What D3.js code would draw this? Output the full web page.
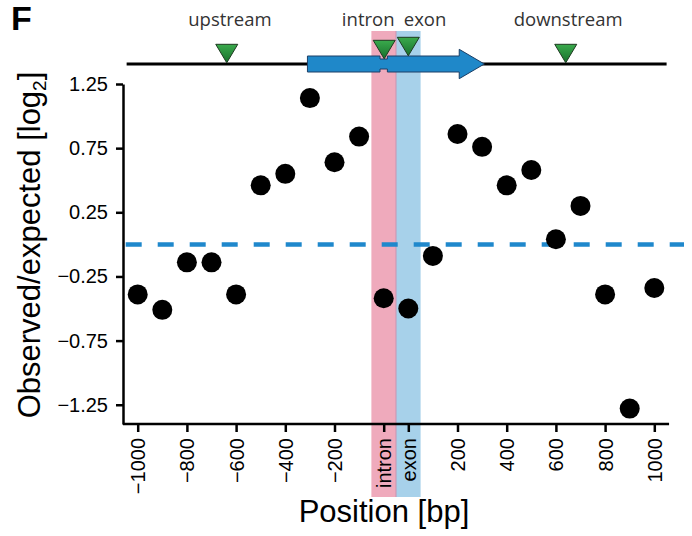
<!DOCTYPE html>
<html>
<head>
<meta charset="utf-8">
<script src="https://cdn.jsdelivr.net/npm/d3@7"></script>
<style>
  body { margin: 0; background: #fff; }
  svg { display: block; }
</style>
</head>
<body>
<svg id="chart" width="692" height="536"></svg>
<script>
// positions along the gene, upstream bins, the two splice-site bins, downstream bins
const positions = ["-1000", "-900", "-800", "-700", "-600", "-500", "-400", "-300", "-200", "-100",
  "intron", "exon",
  "100", "200", "300", "400", "500", "600", "700", "800", "900", "1000"];

// observed/expected ratio (log2) for each position
const ratios = [-0.39, -0.51, -0.14, -0.14, -0.39, 0.46, 0.55, 1.14, 0.64, 0.84,
  -0.42, -0.50,
  -0.09, 0.86, 0.76, 0.46, 0.58, 0.04, 0.30, -0.39, -1.28, -0.34];

const xTicks = ["-1000", "-800", "-600", "-400", "-200", "intron", "exon", "200", "400", "600", "800", "1000"];
const yTicks = [1.25, 0.75, 0.25, -0.25, -0.75, -1.25];

// shaded bins behind the points
const bands = [
  { pos: "intron", color: "#efaabc" },
  { pos: "exon", color: "#a7d1ea" },
];

// gene cartoon on top, in bin units (0 = first bin)
const geneLine = [-0.45, 21.5];
const geneArrow = { start: 6.9, notchStart: 9.85, notchEnd: 10.15, headStart: 13.07, tip: 14.09 };
const markers = [
  { name: "upstream", pos: 3.62, drop: 0 },
  { name: "intron", pos: 10.02, drop: -4 },
  { name: "exon", pos: 11.0, drop: -7 },
  { name: "downstream", pos: 17.4, drop: 0 },
];
const markerLabels = [
  { name: "upstream", pos: 3.75 },
  { name: "intron", pos: 9.37 },
  { name: "exon", pos: 11.68 },
  { name: "downstream", pos: 17.5 },
];

const svg = d3.select("#chart");
const minus = s => String(s).replace("-", "\u2212");

const x = d3.scalePoint()
  .domain(positions)
  .range([137.7, 654.3]);

// same range but numeric, for the gene cartoon
const bin = d3.scaleLinear()
  .domain([0, positions.length - 1])
  .range(x.range());

const y = d3.scaleLinear()
  .domain([-1.4, 1.25])
  .range([424, 84]);

const step = x.step();

// background bands for intron / exon
svg.append("g")
  .selectAll("rect")
  .data(bands)
  .join("rect")
  .attr("x", d => x(d.pos) - step / 2)
  .attr("y", 31)
  .attr("width", step)
  .attr("height", 466)
  .attr("fill", d => d.color);

svg.append("line") //thin seam between the two bands
  .attr("x1", x("intron") + step / 2)
  .attr("x2", x("intron") + step / 2)
  .attr("y1", 31)
  .attr("y2", 497)
  .attr("stroke", "#c595b2")
  .attr("stroke-width", 1);

// gene cartoon
svg.append("line")
  .attr("x1", bin(geneLine[0]))
  .attr("x2", bin(geneLine[1]))
  .attr("y1", 64)
  .attr("y2", 64)
  .attr("stroke", "#000")
  .attr("stroke-width", 3);

const a = {
  x0: bin(geneArrow.start),
  n0: bin(geneArrow.notchStart),
  n1: bin(geneArrow.notchEnd),
  h: bin(geneArrow.headStart),
  t: bin(geneArrow.tip),
};
const arrowPath = d3.path();
arrowPath.moveTo(a.x0, 56);
arrowPath.lineTo(a.n0, 56);
arrowPath.lineTo(a.n0, 59);
arrowPath.lineTo(a.n1, 59);
arrowPath.lineTo(a.n1, 56);
arrowPath.lineTo(a.h, 56);
arrowPath.lineTo(a.h, 49.3);
arrowPath.lineTo(a.t, 64);
arrowPath.lineTo(a.h, 78.7);
arrowPath.lineTo(a.h, 72);
arrowPath.lineTo(a.n1, 72);
arrowPath.lineTo(a.n1, 69);
arrowPath.lineTo(a.n0, 69);
arrowPath.lineTo(a.n0, 72);
arrowPath.lineTo(a.x0, 72);
arrowPath.closePath();

svg.append("path")
  .attr("d", arrowPath.toString())
  .attr("fill", "#1f88c9")
  .attr("stroke", "#1c3f66")
  .attr("stroke-width", 1);

// green gradient for the site markers
const grad = svg.append("defs").append("linearGradient")
  .attr("id", "green")
  .attr("x1", 0).attr("y1", 0).attr("x2", 0).attr("y2", 1);
grad.append("stop").attr("offset", "0%").attr("stop-color", "#3aaa4c");
grad.append("stop").attr("offset", "100%").attr("stop-color", "#17702c");

svg.append("g")
  .selectAll("path")
  .data(markers)
  .join("path")
  .attr("d", d => {
    const cx = bin(d.pos), top = 44.3 + d.drop;
    return `M${cx - 11},${top}L${cx + 11},${top}L${cx},${top + 18.5}Z`;
  })
  .attr("fill", "url(#green)")
  .attr("stroke", "#1d3a20")
  .attr("stroke-width", 1);

svg.append("g")
  .selectAll("text")
  .data(markerLabels)
  .join("text")
  .attr("x", d => bin(d.pos))
  .attr("y", 26)
  .attr("text-anchor", "middle")
  .attr("font-family", "'Open Sans', sans-serif")
  .attr("font-size", 18.5)
  .attr("fill", "#333")
  .text(d => d.name);

// zero line
svg.append("line")
  .attr("x1", 125.7)
  .attr("x2", 684)
  .attr("y1", y(0))
  .attr("y2", y(0))
  .attr("stroke", "#1f88cc")
  .attr("stroke-width", 4.5)
  .attr("stroke-dasharray", "16,16");

// points
svg.append("g")
  .selectAll("circle")
  .data(positions.map((p, i) => ({ pos: p, value: ratios[i] })))
  .join("circle")
  .attr("cx", d => x(d.pos))
  .attr("cy", d => y(d.value))
  .attr("r", 10)
  .attr("fill", "#000");

// axes
const yAxis = svg.append("g")
  .attr("transform", "translate(123,0)")
  .call(d3.axisLeft(y).tickValues(yTicks).tickSize(7).tickSizeOuter(0).tickPadding(8)
    .tickFormat(d => minus(d3.format(".2f")(d))));

const xAxis = svg.append("g")
  .attr("transform", "translate(0,424)")
  .call(d3.axisBottom(x).tickValues(xTicks).tickSize(8).tickSizeOuter(0)
    .tickFormat(d => minus(d)));

xAxis.select(".domain").remove();
xAxis.append("line")
  .attr("x1", x(positions[0]) - step * 0.6)
  .attr("x2", x(positions[positions.length - 1]) + step * 0.6)
  .attr("stroke", "#000")
  .attr("stroke-width", 2.5);

xAxis.selectAll(".tick text")
  .attr("transform", "rotate(-90)")
  .attr("text-anchor", "end")
  .attr("x", -14)
  .attr("y", 0)
  .attr("dy", "0.35em");

[xAxis, yAxis].forEach(g => {
  g.selectAll(".domain, .tick line").attr("stroke", "#000").attr("stroke-width", 2.5);
  g.selectAll(".tick text")
    .attr("font-family", "'Liberation Sans', Arial, sans-serif")
    .attr("font-size", 20)
    .attr("fill", "#000");
});

// axis titles
svg.append("text")
  .attr("x", 384)
  .attr("y", 522)
  .attr("text-anchor", "middle")
  .attr("font-family", "'Liberation Sans', Arial, sans-serif")
  .attr("font-size", 31)
  .text("Position [bp]");

const yTitle = svg.append("text")
  .attr("transform", "translate(40,245) rotate(-90)")
  .attr("text-anchor", "middle")
  .attr("font-family", "'Liberation Sans', Arial, sans-serif")
  .attr("font-size", 31);
yTitle.append("tspan").text("Observed/expected [log");
yTitle.append("tspan").attr("font-size", 19).attr("dy", 6).text("2");
yTitle.append("tspan").attr("dy", -6).text("]");

// panel letter
svg.append("text")
  .attr("x", 11)
  .attr("y", 30)
  .attr("font-family", "'Liberation Sans', Arial, sans-serif")
  .attr("font-weight", "bold")
  .attr("font-size", 34)
  .text("F");
</script>
</body>
</html>
